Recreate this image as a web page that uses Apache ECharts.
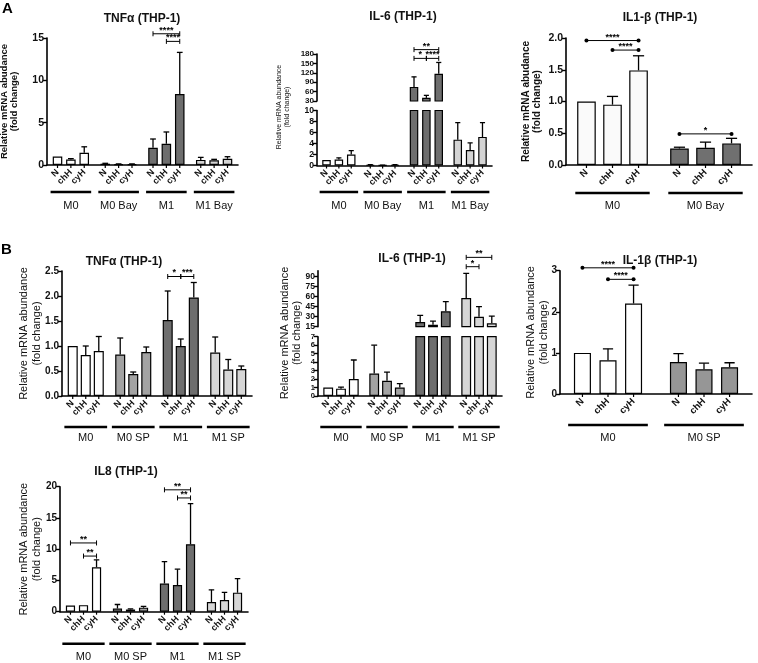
<!DOCTYPE html>
<html><head><meta charset="utf-8">
<script src="https://cdn.jsdelivr.net/npm/echarts@6/dist/echarts.min.js"></script>
<style>html,body{margin:0;padding:0;background:#fff}#c{width:758px;height:663px}</style>
</head><body><div id="c"></div>
<script>
// ---------- data ----------
const treatments = ['N', 'chH', 'cyH'];
const groupsA = ['M0', 'M0 Bay', 'M1', 'M1 Bay'];
const groupsA3 = ['M0', 'M0 Bay'];
const groupsB = ['M0', 'M0 SP', 'M1', 'M1 SP'];
const groupsB3 = ['M0', 'M0 SP'];

// A: TNFα — rows: N, chH, cyH ; columns: groups
const a1Mean = [[1.0, 0.15, 2.04, 0.6], [0.65, 0.1, 2.51, 0.55], [1.45, 0.1, 8.38, 0.74]];
const a1Sd = [[0, 0.05, 1.03, 0.3], [0.1, 0.03, 1.39, 0.12], [0.7, 0.03, 4.92, 0.24]];
const a1Ticks = [0, 5, 10, 15];
const a1Brackets = [[6, 8, 15.5, '****'], [7, 8, 14.6, '****']];

// A: IL-6 (broken axis)
const a2Mean = [[1.0, 0.1, 75, 4.7], [1.1, 0.05, 40, 2.8], [2.0, 0.1, 117, 5.2]];
const a2Sd = [[0, 0.05, 32, 3.1], [0.3, 0.02, 8, 1.3], [0.7, 0.05, 36, 2.6]];
const a2UpperTicks = [30, 60, 90, 120, 150, 180];
const a2LowerTicks = [0, 2, 4, 6, 8, 10];
const a2Brackets = [[6, 8, 194, '**'], [6, 7, 166, '*'], [7, 8, 166, '****']];

// A: IL1-β
const a3Mean = [[1.0, 0.26], [0.95, 0.27], [1.49, 0.34]];
const a3Sd = [[0, 0.02], [0.13, 0.09], [0.23, 0.08]];
const a3Ticks = [0, 0.5, 1.0, 1.5, 2.0];
const a3Brackets = [[0, 2, 1.96, '****'], [1, 2, 1.81, '****'], [3, 5, 0.49, '*']];

// B: TNFα
const b1Mean = [[1.0, 0.83, 1.52, 0.87], [0.82, 0.44, 1.0, 0.53], [0.9, 0.88, 1.97, 0.54]];
const b1Sd = [[0, 0.33, 0.58, 0.31], [0.18, 0.04, 0.14, 0.2], [0.29, 0.1, 0.3, 0.06]];
const b1Ticks = [0, 0.5, 1.0, 1.5, 2.0, 2.5];
const b1Brackets = [[6, 7, 2.39, '*'], [7, 8, 2.39, '***']];

// B: IL-6 (broken axis)
const b2Mean = [[1.0, 2.65, 22, 58], [0.87, 1.8, 18, 30], [2.0, 1.0, 38, 20]];
const b2Sd = [[0, 3.35, 10, 37], [0.18, 1.03, 5.5, 15], [2.25, 0.47, 14.5, 11]];
const b2UpperTicks = [15, 30, 45, 60, 75, 90];
const b2LowerTicks = [0, 1, 2, 3, 4, 5, 6, 7];
const b2Brackets = [[9, 11, 119, '**'], [9, 10, 105, '*']];

// B: IL-1β
const b3Mean = [[1.0, 0.78], [0.82, 0.6], [2.2, 0.65]];
const b3Sd = [[0, 0.2], [0.28, 0.15], [0.45, 0.11]];
const b3Ticks = [0, 1, 2, 3];
const b3Brackets = [[0, 2, 3.07, '****'], [1, 2, 2.79, '****']];

// IL8
const cMean = [[1.0, 0.5, 4.5, 1.55], [1.05, 0.35, 4.27, 1.87], [7.1, 0.65, 10.8, 3.05]];
const cSd = [[0, 0.65, 3.5, 1.95], [0, 0.1, 2.53, 1.23], [1.2, 0.2, 6.5, 2.25]];
const cTicks = [0, 5, 10, 15, 20];
const cBrackets = [[0, 2, 11.0, '**'], [1, 2, 8.9, '**'], [6, 8, 19.5, '**'], [7, 8, 18.2, '**']];

// ---------- styles / layout ----------
const FONT = 'Arial, "Liberation Sans", Helvetica, sans-serif';
const colA = ['#ffffff', '#6e6e6e', '#6e6e6e', '#d4d4d4'];
const colA3 = ['#fafafa', '#707070'];
const colB = ['#ffffff', '#a3a3a3', '#6e6e6e', '#d6d6d6'];
const colB3 = ['#ffffff', '#969696'];
const nameTypo = 'Relative mRNA abudance\n(fold change)';
const nameStd = 'Relative mRNA abundance\n(fold change)';

const charts = [
  { title: 'TNFα (THP-1)', tx: 142, ty: 19, groups: groupsA, mean: a1Mean, sd: a1Sd, brackets: a1Brackets, colors: colA,
    left: 47, width: 191, segs: [{ top: 38, height: 127, ticks: a1Ticks }],
    tickFont: 10.5, dec: 0, name: nameTypo, nameGap: 28, nameBold: true, nameSize: 9.5, nameLH: 10,
    barGap: 0.4, catGap: 0.24, lineOff: 27, lineFrac: 0.85, labelMargin: 35, ends: 'tick', labelSize: 9 },
  { title: 'IL-6 (THP-1)', tx: 403, ty: 17, groups: groupsA, mean: a2Mean, sd: a2Sd, brackets: a2Brackets, colors: colA,
    left: 317, width: 175, segs: [{ top: 54, height: 47, ticks: a2UpperTicks, font: 8 }, { top: 110.5, height: 55, ticks: a2LowerTicks, font: 8.5 }],
    tickFont: 8.5, dec: 0, gName: nameStd, gx: 283, gy: 107, gSize: 7, gBold: false,
    barGap: 0.45, catGap: 0.24, lineOff: 26.5, lineFrac: 0.88, labelMargin: 35, ends: 'tick', labelSize: 9 },
  { title: 'IL1-β (THP-1)', tx: 660, ty: 18, groups: groupsA3, mean: a3Mean, sd: a3Sd, brackets: a3Brackets, colors: colA3,
    left: 566, width: 186, segs: [{ top: 38, height: 127, ticks: a3Ticks }],
    tickFont: 10.5, dec: 1, name: nameTypo, nameGap: 23, nameBold: true, nameSize: 10, nameLH: 11,
    barGap: 0.4, catGap: 0.24, lineOff: 28, lineFrac: 0.8, labelMargin: 35, ends: 'dot', labelSize: 9.5 },
  { title: 'TNFα (THP-1)', tx: 124, ty: 262, groups: groupsB, mean: b1Mean, sd: b1Sd, brackets: b1Brackets, colors: colB,
    left: 62, width: 190, segs: [{ top: 271, height: 125, ticks: b1Ticks }],
    tickFont: 10, dec: 1, name: nameStd, nameGap: 19, nameBold: false, nameSize: 11, nameLH: 12.5,
    barGap: 0.3, catGap: 0.24, lineOff: 31, lineFrac: 0.9, labelMargin: 36, ends: 'tick', labelSize: 9 },
  { title: 'IL-6 (THP-1)', tx: 412, ty: 259, groups: groupsB, mean: b2Mean, sd: b2Sd, brackets: b2Brackets, colors: colB,
    left: 318, width: 184, segs: [{ top: 270.7, height: 56, ticks: b2UpperTicks, max: 99, font: 8.5 }, { top: 336.7, height: 59.3, ticks: b2LowerTicks, font: 7.5 }],
    tickFont: 9, dec: 0, gName: nameStd, gx: 291, gy: 333, gSize: 11, gBold: false,
    barGap: 0.3, catGap: 0.23, lineOff: 31, lineFrac: 0.9, labelMargin: 36, ends: 'tick', labelSize: 9 },
  { title: 'IL-1β (THP-1)', tx: 660, ty: 261, groups: groupsB3, mean: b3Mean, sd: b3Sd, brackets: b3Brackets, colors: colB3,
    left: 560, width: 192, segs: [{ top: 270.7, height: 123.3, ticks: b3Ticks }],
    tickFont: 10, dec: 0, name: nameStd, nameGap: 10, nameBold: false, nameSize: 11, nameLH: 12.5,
    barGap: 0.5, catGap: 0.29, lineOff: 31, lineFrac: 0.83, labelMargin: 38, ends: 'dot', labelSize: 9.5 },
  { title: 'IL8 (THP-1)', tx: 126, ty: 472, groups: groupsB, mean: cMean, sd: cSd, brackets: cBrackets, colors: colB,
    left: 60, width: 188, segs: [{ top: 486.7, height: 125, ticks: cTicks }],
    tickFont: 10, dec: 0, name: nameStd, nameGap: 17, nameBold: false, nameSize: 11, nameLH: 12.5,
    barGap: 0.42, catGap: 0.25, lineOff: 32, lineFrac: 0.9, labelMargin: 40, ends: 'tick', labelSize: 9 }
];

// ---------- build ----------
function barGeom(c, api) {
  const cw = api.size([1, 0])[0];
  const bw = cw * (1 - c.catGap) / (3 + 2 * c.barGap);
  return { cw: cw, bw: bw, step: bw * (1 + c.barGap) };
}
function barX(c, api, idx) {
  const g = Math.floor(idx / 3), k = idx % 3;
  const geo = barGeom(c, api);
  return api.coord([g, 0])[0] + (k - 1) * geo.step;
}

const option = { animation: false, backgroundColor: '#ffffff', grid: [], xAxis: [], yAxis: [], series: [], graphic: [] };

charts.forEach(function (c) {
  const nSeg = c.segs.length;
  c.segs.forEach(function (s, si) {
    const idx = option.grid.length;
    const isTop = si === 0, isBottom = si === nSeg - 1;
    const yMin = s.ticks[0];
    const yMax = s.max !== undefined ? s.max : s.ticks[s.ticks.length - 1];
    const fs = s.font || c.tickFont;
    option.grid.push({ left: c.left, top: s.top, width: c.width, height: s.height, containLabel: false, outerBoundsMode: 'none' });
    option.xAxis.push({
      type: 'category', gridIndex: idx, data: c.groups, boundaryGap: true,
      axisLine: { show: isBottom, lineStyle: { color: '#000', width: 1.6 } },
      axisTick: { show: false }, splitLine: { show: false },
      axisLabel: { show: isBottom, interval: 0, hideOverlap: false, margin: c.labelMargin, fontSize: 11, color: '#111', fontFamily: FONT }
    });
    const y = {
      type: 'value', gridIndex: idx, min: yMin, max: yMax,
      axisLine: { show: true, lineStyle: { color: '#000', width: 1.6 } },
      axisTick: { show: true, inside: false, length: 4, lineStyle: { color: '#000', width: 1.4 }, customValues: s.ticks },
      axisLabel: { show: true, customValues: s.ticks, showMinLabel: true, showMaxLabel: true, hideOverlap: false, margin: 3,
        fontSize: fs, lineHeight: fs, fontWeight: 'bold', color: '#111', fontFamily: FONT,
        formatter: function (v) { return Number(v).toFixed(c.dec); } },
      splitLine: { show: false }
    };
    if (c.name) {
      y.name = c.name; y.nameLocation = 'middle'; y.nameGap = c.nameGap; y.nameRotate = 90; y.nameMoveOverlap = false;
      y.nameTextStyle = { fontSize: c.nameSize, fontWeight: c.nameBold ? 'bold' : 'normal', color: '#111', fontFamily: FONT, lineHeight: c.nameLH };
    }
    option.yAxis.push(y);

    treatments.forEach(function (t, k) {
      option.series.push({
        type: 'bar', name: t, xAxisIndex: idx, yAxisIndex: idx, silent: true, clip: true,
        barGap: (c.barGap * 100) + '%', barCategoryGap: (c.catGap * 100) + '%',
        itemStyle: { borderColor: '#000', borderWidth: 1.2 },
        data: c.mean[k].map(function (v, g) { return { value: v, itemStyle: { color: c.colors[g] } }; }),
        labelLayout: { hideOverlap: false },
        label: isBottom ? { show: true, position: 'bottom', distance: 6, formatter: t, rotate: 45, align: 'right', verticalAlign: 'middle',
          fontSize: c.labelSize, fontWeight: 'bold', color: '#111', fontFamily: FONT } : { show: false }
      });
    });

    // error bars
    const errData = [];
    c.mean.forEach(function (row, k) { row.forEach(function (m, g) { errData.push([g, m, k, c.sd[k][g]]); }); });
    option.series.push({
      type: 'custom', xAxisIndex: idx, yAxisIndex: idx, silent: true, clip: true, data: errData,
      renderItem: function (params, api) {
        const g = api.value(0), m = api.value(1), k = api.value(2), e = api.value(3);
        if (!(e > 0)) return { type: 'group', children: [] };
        const x = barX(c, api, g * 3 + k);
        const geo = barGeom(c, api);
        const yb = api.coord([g, m])[1], yt = api.coord([g, m + e])[1];
        const cap = geo.bw * 0.6;
        return { type: 'group', children: [
          { type: 'line', shape: { x1: x, y1: yb, x2: x, y2: yt }, style: { stroke: '#000', lineWidth: 1.3 } },
          { type: 'line', shape: { x1: x - cap / 2, y1: yt, x2: x + cap / 2, y2: yt }, style: { stroke: '#000', lineWidth: 1.3 } }
        ] };
      }
    });

    if (isTop) {
      option.series.push({
        type: 'custom', xAxisIndex: idx, yAxisIndex: idx, silent: true, clip: false,
        data: c.brackets.map(function (b) { return [Math.floor(b[0] / 3), b[2]]; }),
        renderItem: function (params, api) {
          const b = c.brackets[params.dataIndex];
          const x1 = barX(c, api, b[0]), x2 = barX(c, api, b[1]);
          const yy = api.coord([0, b[2]])[1];
          const ch = [{ type: 'line', shape: { x1: x1, y1: yy, x2: x2, y2: yy }, style: { stroke: '#000', lineWidth: 1 } }];
          [x1, x2].forEach(function (xx) {
            if (c.ends === 'dot') ch.push({ type: 'circle', shape: { cx: xx, cy: yy, r: 2 }, style: { fill: '#000' } });
            else ch.push({ type: 'line', shape: { x1: xx, y1: yy - 2.5, x2: xx, y2: yy + 2.5 }, style: { stroke: '#000', lineWidth: 1 } });
          });
          ch.push({ type: 'text', x: (x1 + x2) / 2, y: yy + 1, style: { text: b[3], align: 'center', verticalAlign: 'bottom',
            textAlign: 'center', textVerticalAlign: 'bottom', font: 'bold 9px ' + FONT, fill: '#000' } });
          return { type: 'group', children: ch };
        }
      });
    }
    if (isBottom) {
      option.series.push({
        type: 'custom', xAxisIndex: idx, yAxisIndex: idx, silent: true, clip: false,
        data: c.groups.map(function (_, g) { return [g, yMin]; }),
        renderItem: function (params, api) {
          const g = api.value(0);
          const p = api.coord([g, yMin]);
          const geo = barGeom(c, api);
          const w = geo.cw * c.lineFrac;
          const ch = [{ type: 'rect', shape: { x: p[0] - w / 2, y: p[1] + c.lineOff - 1.2, width: w, height: 2.4 }, style: { fill: '#000' } }];
          for (let k = 0; k < 3; k++) {
            const xx = barX(c, api, g * 3 + k);
            ch.push({ type: 'line', shape: { x1: xx, y1: p[1], x2: xx, y2: p[1] + 3 }, style: { stroke: '#000', lineWidth: 1.2 } });
          }
          return { type: 'group', children: ch };
        }
      });
    }
  });
  option.graphic.push({ type: 'text', x: c.tx, y: c.ty, silent: true,
    style: { text: c.title, align: 'center', verticalAlign: 'middle', textAlign: 'center', textVerticalAlign: 'middle', font: 'bold 12px ' + FONT, fill: '#111' } });
  if (c.gName) {
    option.graphic.push({ type: 'text', x: c.gx, y: c.gy, rotation: Math.PI / 2, silent: true,
      style: { text: c.gName, align: 'center', verticalAlign: 'middle', textAlign: 'center', textVerticalAlign: 'middle',
        font: (c.gBold ? 'bold ' : '') + c.gSize + 'px ' + FONT, lineHeight: c.gSize + 1.5, fill: '#111' } });
  }
});

option.graphic.push({ type: 'text', x: 2, y: 1, silent: true, style: { text: 'A', font: 'bold 15px ' + FONT, fill: '#000' } });
option.graphic.push({ type: 'text', x: 1, y: 242, silent: true, style: { text: 'B', font: 'bold 15px ' + FONT, fill: '#000' } });

const chart = echarts.init(document.getElementById('c'), null, { renderer: 'canvas' });
chart.setOption(option);
</script>
</body></html>
